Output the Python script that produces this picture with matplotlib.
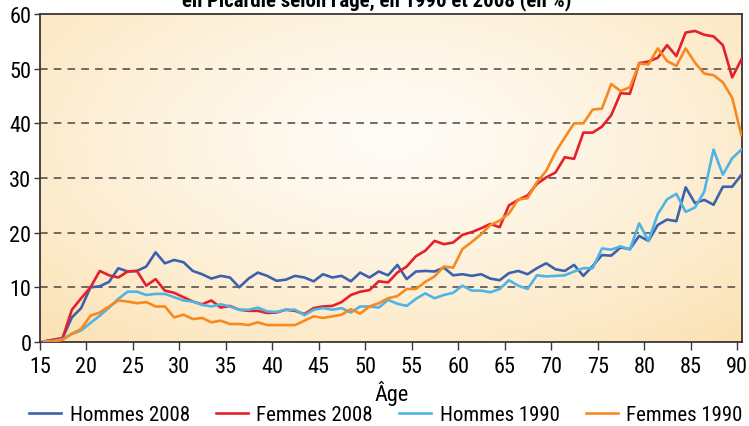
import numpy as np
import matplotlib
matplotlib.use("Agg")
import matplotlib.pyplot as plt
from matplotlib import font_manager

names = {f.name for f in font_manager.fontManager.ttflist}
narrow = [n for n in ['Liberation Sans Narrow', 'DejaVu Sans Condensed', 'Roboto Condensed'] if n in names]
plt.rcParams['font.family'] = narrow + ['DejaVu Sans']
plt.rcParams['font.stretch'] = 'condensed'
fs = 15 if narrow else 13

ages = list(range(15, 91))

hommes_2008 = [0.1, 0.4, 0.7, 4.5, 6.2, 10.0, 10.2, 11.0, 13.5, 12.9, 13.0, 13.8, 16.4, 14.4, 15.0, 14.6,
               13.0, 12.4, 11.6, 12.1, 11.8, 10.0, 11.6, 12.7, 12.1, 11.2, 11.4, 12.1, 11.8, 11.1, 12.4,
               11.8, 12.1, 11.1, 12.7, 11.8, 12.9, 12.2, 14.1, 11.5, 12.9, 13.0, 12.9, 13.6, 12.2, 12.4,
               12.1, 12.4, 11.6, 11.3, 12.6, 13.0, 12.4, 13.5, 14.4, 13.3, 13.0, 14.1, 12.1, 13.9, 15.9,
               15.8, 17.3, 17.0, 19.4, 18.5, 21.4, 22.4, 22.1, 28.3, 25.4, 26.0, 25.1, 28.4, 28.4, 30.6]

femmes_2008 = [0.1, 0.4, 0.7, 5.9, 8.0, 10.0, 13.0, 12.2, 11.8, 12.9, 13.0, 10.3, 11.5, 9.4, 9.0, 8.2,
               7.4, 6.9, 7.6, 6.3, 6.6, 5.9, 5.7, 5.7, 5.3, 5.4, 5.9, 5.7, 5.1, 6.2, 6.5,
               6.6, 7.3, 8.6, 9.2, 9.5, 11.1, 10.9, 12.7, 13.8, 15.7, 16.7, 18.5, 17.9, 18.2, 19.6,
               20.1, 20.8, 21.6, 21.0, 25.0, 26.0, 26.8, 28.9, 30.1, 31.0, 33.8, 33.5, 38.3, 38.3, 39.4,
               41.5, 45.5, 45.4, 51.0, 51.3, 52.0, 54.3, 52.3, 56.6, 56.9, 56.2, 55.9, 54.3, 48.4, 51.7]

hommes_1990 = [0.1, 0.2, 0.5, 1.5, 2.1, 3.5, 4.8, 6.3, 7.9, 9.2, 9.2, 8.6, 8.8, 8.8, 8.2, 7.6,
               7.4, 6.8, 6.5, 6.9, 6.5, 5.9, 5.9, 6.3, 5.6, 5.5, 5.9, 5.9, 4.9, 5.9, 6.2,
               5.9, 6.2, 5.4, 6.5, 6.5, 6.3, 7.7, 7.0, 6.6, 7.9, 8.9, 8.0, 8.6, 9.0, 10.3,
               9.4, 9.4, 9.1, 9.7, 11.3, 10.3, 9.7, 12.2, 12.0, 12.1, 12.2, 12.9, 13.5, 13.5, 17.1,
               16.9, 17.5, 16.9, 21.7, 18.5, 23.4, 26.1, 27.1, 23.8, 24.6, 27.5, 35.2, 30.6, 33.6, 35.2]

femmes_1990 = [0.0, 0.1, 0.4, 1.5, 2.4, 4.8, 5.4, 6.5, 7.6, 7.4, 7.1, 7.3, 6.5, 6.5, 4.5, 5.0,
               4.2, 4.4, 3.6, 3.9, 3.3, 3.3, 3.1, 3.6, 3.1, 3.1, 3.1, 3.1, 3.9, 4.7, 4.4,
               4.7, 5.0, 6.0, 5.2, 6.5, 7.1, 8.0, 8.4, 9.7, 9.7, 11.0, 12.0, 13.8, 13.6, 17.0,
               18.3, 19.7, 21.4, 22.2, 23.5, 26.1, 26.3, 29.2, 31.3, 34.7, 37.4, 40.0, 40.0, 42.5, 42.7,
               47.2, 45.9, 46.6, 50.9, 50.8, 53.7, 51.4, 50.5, 53.7, 51.1, 49.1, 48.8, 47.5, 44.7, 37.8]

series = [("Hommes 2008", hommes_2008, "#3c62ad"),
          ("Femmes 2008", femmes_2008, "#e5202b"),
          ("Hommes 1990", hommes_1990, "#4fb4e5"),
          ("Femmes 1990", femmes_1990, "#f68a20")]

fig = plt.figure(figsize=(7.49, 4.27), dpi=100)
ax = fig.add_axes([0.0531, 0.1967, 0.9382, 0.7682])

# radial background, pale centre and warmer edges
gx, gy = np.meshgrid(np.linspace(0, 1, 300), np.linspace(0, 1, 200))
r = np.sqrt(((gx - 0.5) / 0.75) ** 2 + ((gy - 0.62) / 0.85) ** 2)
r = np.clip(r, 0, 1)
c0 = np.array([255, 252, 246]) / 255
c1 = np.array([251, 225, 178]) / 255
img = c0 + (c1 - c0) * (r[..., None] ** 1.3)
ax.imshow(img, extent=[0, 1, 0, 1], transform=ax.transAxes, origin='lower',
          aspect='auto', zorder=0)

x = np.array(ages) + 0.45
for name, vals, col in series:
    ax.plot(x, vals, color=col, lw=1.9, label=name, zorder=3)

ax.set_xlim(15, 90.56)
ax.set_ylim(0, 60)
ax.set_xticks(range(15, 91, 5))
ax.set_yticks(range(0, 61, 10))
for yv in range(10, 60, 10):
    ax.axhline(yv, color="#4a4444", lw=1.1, ls=(0, (5, 4)), zorder=2)

for s in ax.spines.values():
    s.set_color("#3a3434")
    s.set_linewidth(1.3)
ax.tick_params(axis='x', direction='out', length=6, width=1, color="#3a3434",
               labelsize=fs + 1, pad=4)
ax.tick_params(axis='y', direction='out', length=4, width=1, color="#3a3434",
               labelsize=fs + 1, pad=2)
ax.set_xlabel("Âge", fontsize=fs + 1, labelpad=2)

fig.legend(loc='lower center', bbox_to_anchor=(0.515, -0.04), ncol=4, frameon=False,
           fontsize=fs, handlelength=1.55, handletextpad=0.4, columnspacing=1.25)

fig.text(377 / 749, 1 - 6 / 427, "en Picardie selon l'âge, en 1990 et 2008 (en %)",
         ha='center', va='baseline', fontsize=fs, fontweight='bold')

fig.savefig("out.png", dpi=100)
